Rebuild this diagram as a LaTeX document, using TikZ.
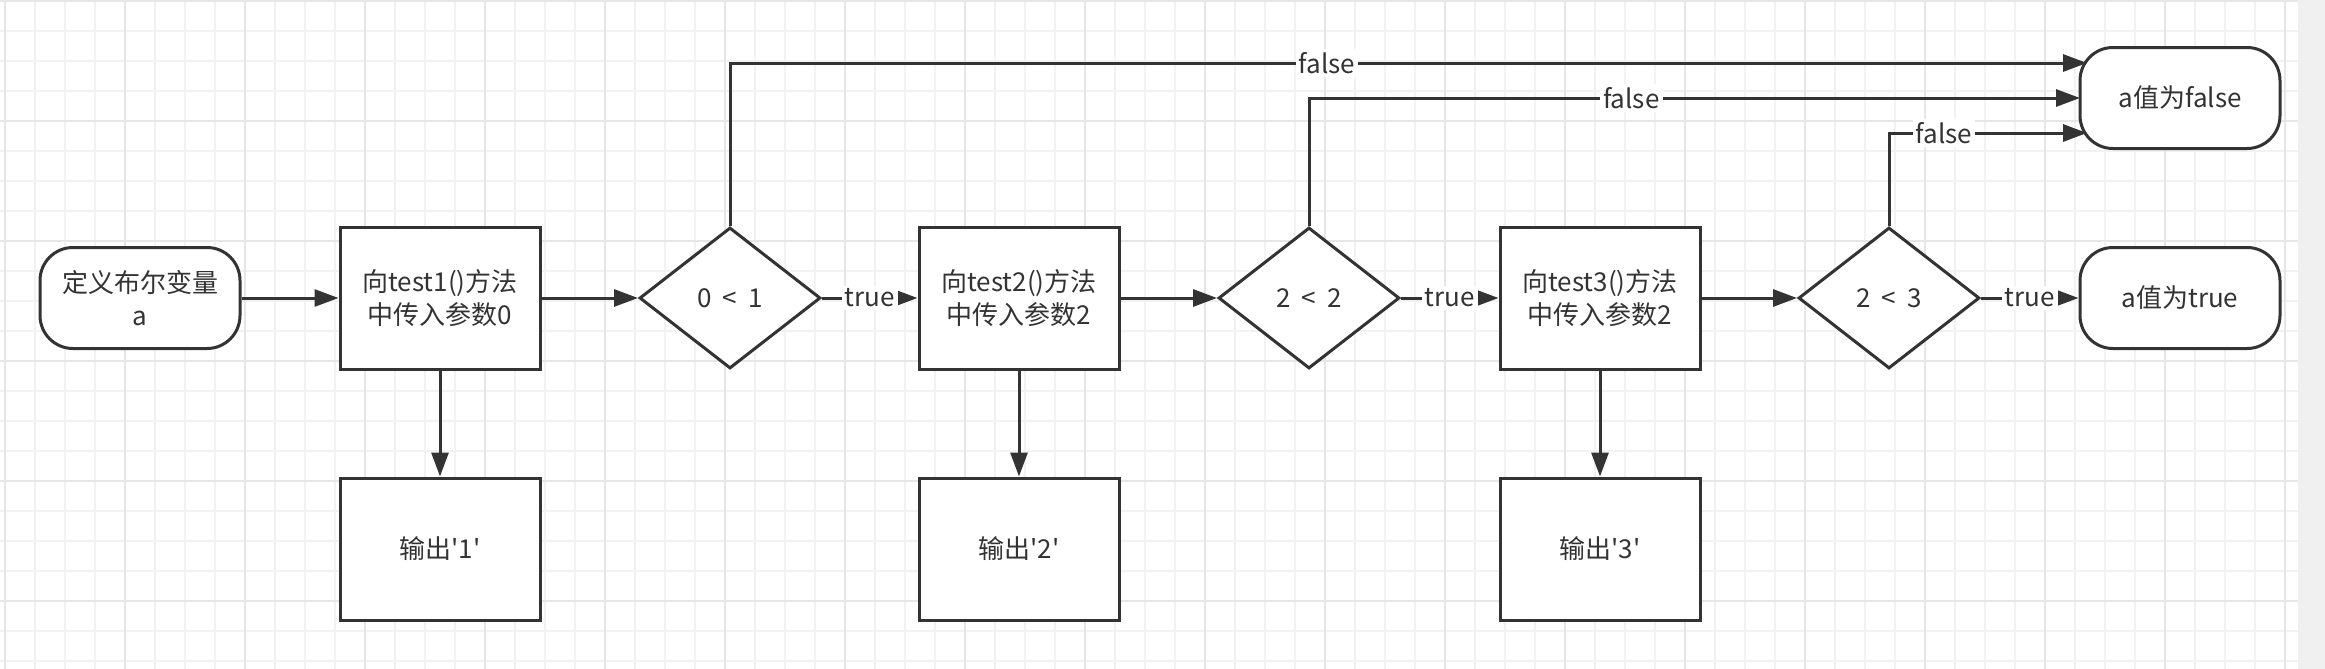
\documentclass[tikz,border=0pt]{standalone}
\usepackage{fontspec}
\newfontfamily\cjk{Noto Sans CJK SC}
\usetikzlibrary{arrows.meta,shapes.geometric}
\definecolor{ink}{HTML}{333333}
\definecolor{gridminor}{HTML}{F2F2F2}
\definecolor{gridmajor}{HTML}{E6E6E6}
\definecolor{margingray}{HTML}{F0F0F0}
\newcommand{\ltgap}{\hspace{5.5pt}}

\begin{document}
\begin{tikzpicture}[x=0.5pt, y=-0.5pt,
  every node/.style={font=\cjk\fontsize{13pt}{16.3pt}\selectfont, text=ink},
  terminal/.style={draw=ink, line width=1.5pt, fill=white, rounded corners=16.5pt,
    minimum width=100pt, minimum height=50.5pt, align=center},
  process/.style={draw=ink, line width=1.5pt, fill=white,
    minimum width=100pt, minimum height=71pt, align=center},
  decision/.style={draw=ink, line width=1.5pt, fill=white, diamond, inner sep=0pt,
    minimum width=90.5pt, minimum height=70.5pt},
  arrow/.style={draw=ink, line width=1.5pt, -{Triangle[length=12pt, width=8.5pt]}},
  edgelabel/.style={fill=white, inner sep=1.5pt}]
  % canvas and grid
  \useasboundingbox (0,0) rectangle (2325,669);
  \fill[white] (0,0) rectangle (2298,669);
  \fill[margingray] (2298,0) rectangle (2325,669);
  \foreach \x in {5,35,...,2285} \draw[gridminor, line width=1pt] (\x,0) -- (\x,669);
  \foreach \y in {1,31,...,661} \draw[gridminor, line width=1pt] (0,\y) -- (2298,\y);
  \foreach \x in {5,125,...,2285} \draw[gridmajor, line width=1.2pt] (\x,0) -- (\x,669);
  \foreach \y in {1,121,...,601} \draw[gridmajor, line width=1.2pt] (0,\y) -- (2298,\y);

  % main row
  \node[terminal] (start) at (140,298) {定义布尔变量\\a};
  \node[process] (call1) at (440,298) {向test1()方法\\中传入参数0};
  \node[decision] (test1) at (730,298) {0\ltgap<\ltgap1};
  \node[process] (call2) at (1019,298) {向test2()方法\\中传入参数2};
  \node[decision] (test2) at (1309,298) {2\ltgap<\ltgap2};
  \node[process] (call3) at (1600,298) {向test3()方法\\中传入参数2};
  \node[decision] (test3) at (1889,298) {2\ltgap<\ltgap3};
  \node[terminal] (atrue) at (2180,298) {a值为true};
  \node[terminal] (afalse) at (2180,98) {a值为false};

  % outputs
  \node[process] (out1) at (440,549) {输出'1'};
  \node[process] (out2) at (1019,549) {输出'2'};
  \node[process] (out3) at (1600,549) {输出'3'};

  % where the false lines meet the rounded side
  \coordinate (hit1) at (2087,63);
  \coordinate (hit2) at (2080,98);
  \coordinate (hit3) at (2087,133);

  \draw[arrow] (start) -- (call1);
  \draw[arrow] (call1) -- (test1);
  \draw[arrow] (test1) -- node[edgelabel] {true} (call2);
  \draw[arrow] (call2) -- (test2);
  \draw[arrow] (test2) -- node[edgelabel] {true} (call3);
  \draw[arrow] (call3) -- (test3);
  \draw[arrow] (test3) -- node[edgelabel] {true} (atrue);

  \draw[arrow] (call1) -- (out1);
  \draw[arrow] (call2) -- (out2);
  \draw[arrow] (call3) -- (out3);

  \draw[arrow] (test1.north) |- node[edgelabel, pos=0.72] {false} (hit1);
  \draw[arrow] (test2.north) |- node[edgelabel, pos=0.709] {false} (hit2);
  \draw[arrow] (test3.north) |- node[edgelabel, pos=0.639] {false} (hit3);
\end{tikzpicture}
\end{document}
